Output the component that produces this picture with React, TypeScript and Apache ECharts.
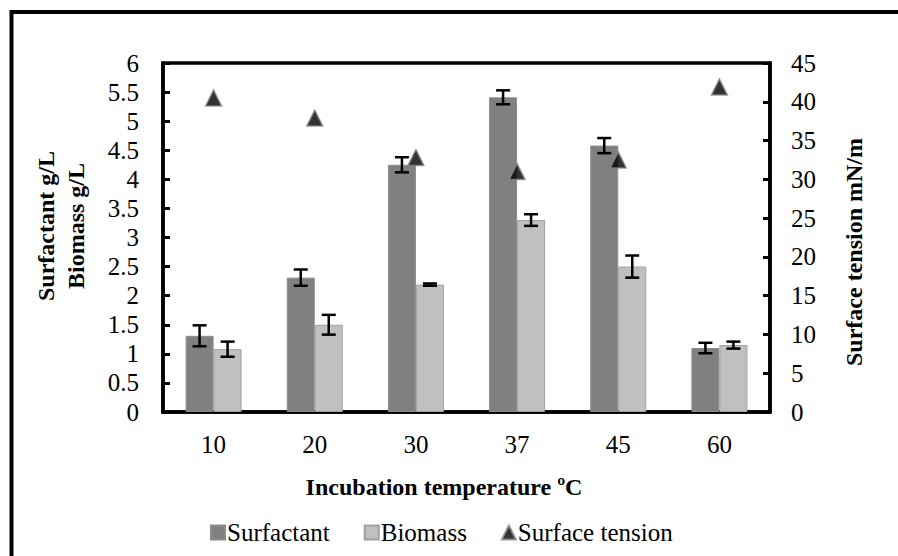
import React, { useEffect, useRef } from "react";
import * as echarts from "echarts";

const categories = ["10", "20", "30", "37", "45", "60"];
const surfactant = [1.31, 2.31, 4.25, 5.41, 4.58, 1.1];
const surfactantErr = [0.18, 0.14, 0.13, 0.12, 0.13, 0.09];
const biomass = [1.08, 1.5, 2.19, 3.3, 2.5, 1.15];
const biomassErr = [0.13, 0.17, 0.02, 0.1, 0.19, 0.06];
const surfaceTension = [40.5, 37.9, 32.8, 31.0, 32.5, 41.9];

const FONT = "Liberation Serif";
const BAR_W = 28;

export default function App() {
  const ref = useRef<HTMLDivElement>(null);
  useEffect(() => {
    if (!ref.current) return;
    const chart = echarts.init(ref.current, undefined, { renderer: "svg" });

    const errData = (vals: number[], errs: number[]) =>
      vals.map((v, i) => [i, v - errs[i], v + errs[i]]);

    const errRender = (side: number) => (params: any, api: any) => {
      const i = api.value(0);
      const lo = api.coord([i, api.value(1)]);
      const hi = api.coord([i, api.value(2)]);
      const x = lo[0] + (side * BAR_W) / 2;
      const cap = 7;
      const style = { stroke: "#000", lineWidth: 2.5 };
      return {
        type: "group",
        children: [
          { type: "line", shape: { x1: x, y1: lo[1], x2: x, y2: hi[1] }, style },
          { type: "line", shape: { x1: x - cap, y1: lo[1], x2: x + cap, y2: lo[1] }, style },
          { type: "line", shape: { x1: x - cap, y1: hi[1], x2: x + cap, y2: hi[1] }, style },
        ],
      };
    };

    const boldText = (text: string) => ({
      text,
      fontFamily: FONT,
      fontWeight: "bold",
      fontSize: 24,
      fill: "#000",
      align: "center",
      verticalAlign: "middle",
    });

    chart.setOption({
      animation: false,
      backgroundColor: "#fff",
      textStyle: { fontFamily: FONT, color: "#000" },
      grid: {
        left: 163,
        right: 128,
        top: 63,
        bottom: 144,
        show: true,
        borderColor: "#000",
        borderWidth: 3.5,
      },
      legend: {
        left: 205,
        top: 515,
        itemWidth: 14,
        itemHeight: 14,
        itemGap: 34,
        textStyle: { fontFamily: FONT, fontSize: 25, color: "#000", padding: [0, 0, 0, -3] },
        data: [
          { name: "Surfactant", icon: "rect" },
          { name: "Biomass", icon: "rect" },
          { name: "Surface tension", icon: "triangle" },
        ],
      },
      xAxis: {
        type: "category",
        data: categories,
        axisLine: { lineStyle: { color: "#000", width: 3.5 } },
        axisTick: { show: false },
        axisLabel: { fontFamily: FONT, fontSize: 25, color: "#000", margin: 20 },
      },
      yAxis: [
        {
          type: "value",
          min: 0,
          max: 6,
          interval: 0.5,
          splitLine: { show: false },
          axisLine: { show: true, lineStyle: { color: "#000", width: 3.5 } },
          axisTick: { show: true, inside: true, length: 7, lineStyle: { color: "#000", width: 3 } },
          axisLabel: { fontFamily: FONT, fontSize: 25, color: "#000", margin: 24 },
        },
        {
          type: "value",
          min: 0,
          max: 45,
          interval: 5,
          position: "right",
          splitLine: { show: false },
          axisLine: { show: true, lineStyle: { color: "#000", width: 3.5 } },
          axisTick: { show: true, inside: true, length: 7, lineStyle: { color: "#000", width: 3 } },
          axisLabel: { fontFamily: FONT, fontSize: 25, color: "#000", margin: 21 },
        },
      ],
      graphic: [
        {
          type: "rect",
          silent: true,
          shape: { x: 11.5, y: 12, width: 1000, height: 1000 },
          style: { fill: "none", stroke: "#000", lineWidth: 4 },
        },
        {
          type: "text",
          x: 61,
          y: 226,
          rotation: Math.PI / 2,
          style: { ...boldText("Surfactant g/L\nBiomass g/L"), lineHeight: 30 },
        },
        {
          type: "text",
          x: 854,
          y: 252,
          rotation: Math.PI / 2,
          style: boldText("Surface tension mN/m"),
        },
        {
          type: "text",
          x: 444,
          y: 487,
          style: boldText("Incubation temperature ºC"),
        },
      ],
      series: [
        {
          name: "Surfactant",
          type: "bar",
          data: surfactant,
          barWidth: BAR_W,
          barGap: "0%",
          itemStyle: { color: "#808080", borderColor: "#8c8c8c", borderWidth: 1 },
          z: 2,
        },
        {
          name: "Biomass",
          type: "bar",
          data: biomass,
          barWidth: BAR_W,
          barGap: "0%",
          itemStyle: { color: "#c0c0c0", borderColor: "#a0a0a0", borderWidth: 1 },
          z: 2,
        },
        {
          name: "Surfactant err",
          type: "custom",
          data: errData(surfactant, surfactantErr),
          renderItem: errRender(-1),
          encode: { x: 0, y: [1, 2] },
          z: 5,
          silent: true,
        },
        {
          name: "Biomass err",
          type: "custom",
          data: errData(biomass, biomassErr),
          renderItem: errRender(1),
          encode: { x: 0, y: [1, 2] },
          z: 5,
          silent: true,
        },
        {
          name: "Surface tension",
          type: "scatter",
          yAxisIndex: 1,
          data: surfaceTension,
          symbol: "triangle",
          symbolSize: 16,
          itemStyle: { color: "#000", borderColor: "#888", borderWidth: 1.5 },
          z: 10,
        },
      ],
    });
    return () => chart.dispose();
  }, []);

  return (
    <div
      ref={ref}
      style={{ position: "absolute", left: 0, top: 0, width: 898, height: 556 }}
    />
  );
}
